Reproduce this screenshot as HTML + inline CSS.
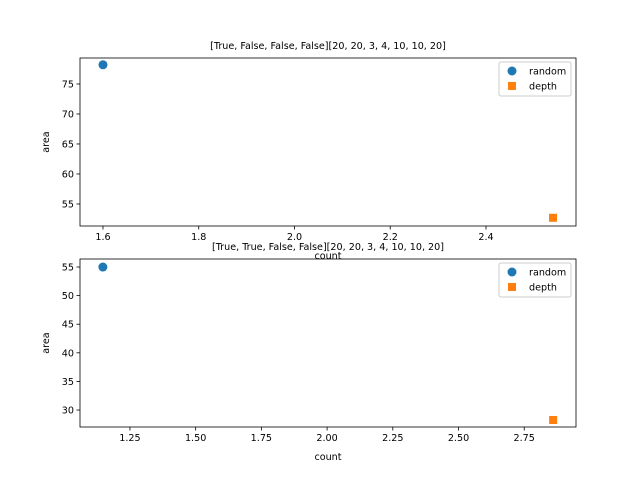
<!DOCTYPE html>
<html><head><meta charset="utf-8"><style>body{margin:0;background:#fff}svg{display:block;font-family:"DejaVu Sans","Liberation Sans",sans-serif}</style></head>
<body>
<svg id="c" width="640" height="480"></svg>
<script>
const titles = ["[True, False, False, False][20, 20, 3, 4, 10, 10, 20]","[True, True, False, False][20, 20, 3, 4, 10, 10, 20]"];
const seriesNames = ["random","depth"];
const randomX = [1.6, 1.147];
const randomY = [78.2, 55.0];
const depthX = [2.54, 2.86];
const depthY = [52.7, 28.25];
const xTicks1 = [1.6,1.8,2.0,2.2,2.4];
const yTicks1 = [55,60,65,70,75];
const xTicks2 = [1.25,1.5,1.75,2.0,2.25,2.5,2.75];
const yTicks2 = [30,35,40,45,50,55];
const xDom = [[1.552,2.588],[1.060,2.947]];
const yDom = [[51.33,79.33],[27.03,56.4]];
const NS="http://www.w3.org/2000/svg", svg=document.getElementById('c');
function mk(t,a,p){const e=document.createElementNS(NS,t);for(const k in a)e.setAttribute(k,a[k]);(p||svg).appendChild(e);return e;}
const FS=9.6;
const boxes=[{x:80,y:58,w:496,h:168},{x:80,y:259,w:496,h:168}];
boxes.forEach((b,i)=>{
  const g=mk('g',{});
  
  
  const sx=v=>b.x+(v-xDom[i][0])/(xDom[i][1]-xDom[i][0])*b.w;
  const sy=v=>b.y+b.h-(v-yDom[i][0])/(yDom[i][1]-yDom[i][0])*b.h;
  const xt=i?xTicks2:xTicks1, yt=i?yTicks2:yTicks1;
  xt.forEach(v=>{const x=sx(v);mk('line',{x1:x,x2:x,y1:b.y+b.h,y2:b.y+b.h+3.5,stroke:'#000','stroke-width':0.8},g);
    const t=mk('text',{x:x,y:b.y+b.h+14,'font-size':FS,'text-anchor':'middle'},g);t.textContent=i?v.toFixed(2):v.toFixed(1);
    });
  yt.forEach(v=>{const y=sy(v);mk('line',{x1:b.x-3.5,x2:b.x,y1:y,y2:y,stroke:'#000','stroke-width':0.8},g);
    const t=mk('text',{x:b.x-6,y:y+3.5,'font-size':FS,'text-anchor':'end'},g);t.textContent=v;
    });
  const r=mk('rect',{x:b.x,y:b.y,width:b.w,height:b.h,fill:'none',stroke:'#000','stroke-width':0.8},g);
  
  const tt=mk('text',{x:b.x+b.w/2,y:b.y-9,'font-size':FS,'text-anchor':'middle'},g);tt.textContent=titles[i];
  
  const xl=mk('text',{x:b.x+b.w/2,y:b.y+b.h+33,'font-size':FS,'text-anchor':'middle'},g);xl.textContent='count';
  
  const yl=mk('text',{x:0,y:0,'font-size':FS,'text-anchor':'middle',transform:`translate(${b.x-31},${b.y+b.h/2}) rotate(-90)`},g);yl.textContent='area';
  
  const p=mk('circle',{cx:sx(randomX[i]),cy:sy(randomY[i]),r:4.5,fill:'#1f77b4'},g);
  
  const q=mk('rect',{x:sx(depthX[i])-4,y:sy(depthY[i])-4,width:8,height:8,fill:'#ff7f0e'},g);
  
  const lg=mk('g',{},g);
  
  mk('rect',{x:b.x+b.w-77,y:b.y+4,width:72,height:34,rx:2,fill:'#fff',stroke:'#ccc','stroke-width':1},lg);
  mk('circle',{cx:b.x+b.w-64,cy:b.y+13,r:4.5,fill:'#1f77b4'},lg);
  mk('rect',{x:b.x+b.w-68,y:b.y+24,width:8,height:8,fill:'#ff7f0e'},lg);
  seriesNames.forEach((n,k)=>{const t=mk('text',{x:b.x+b.w-47,y:b.y+16.5+k*15,'font-size':FS},lg);t.textContent=n;
    });
});
</script>
</body></html>
